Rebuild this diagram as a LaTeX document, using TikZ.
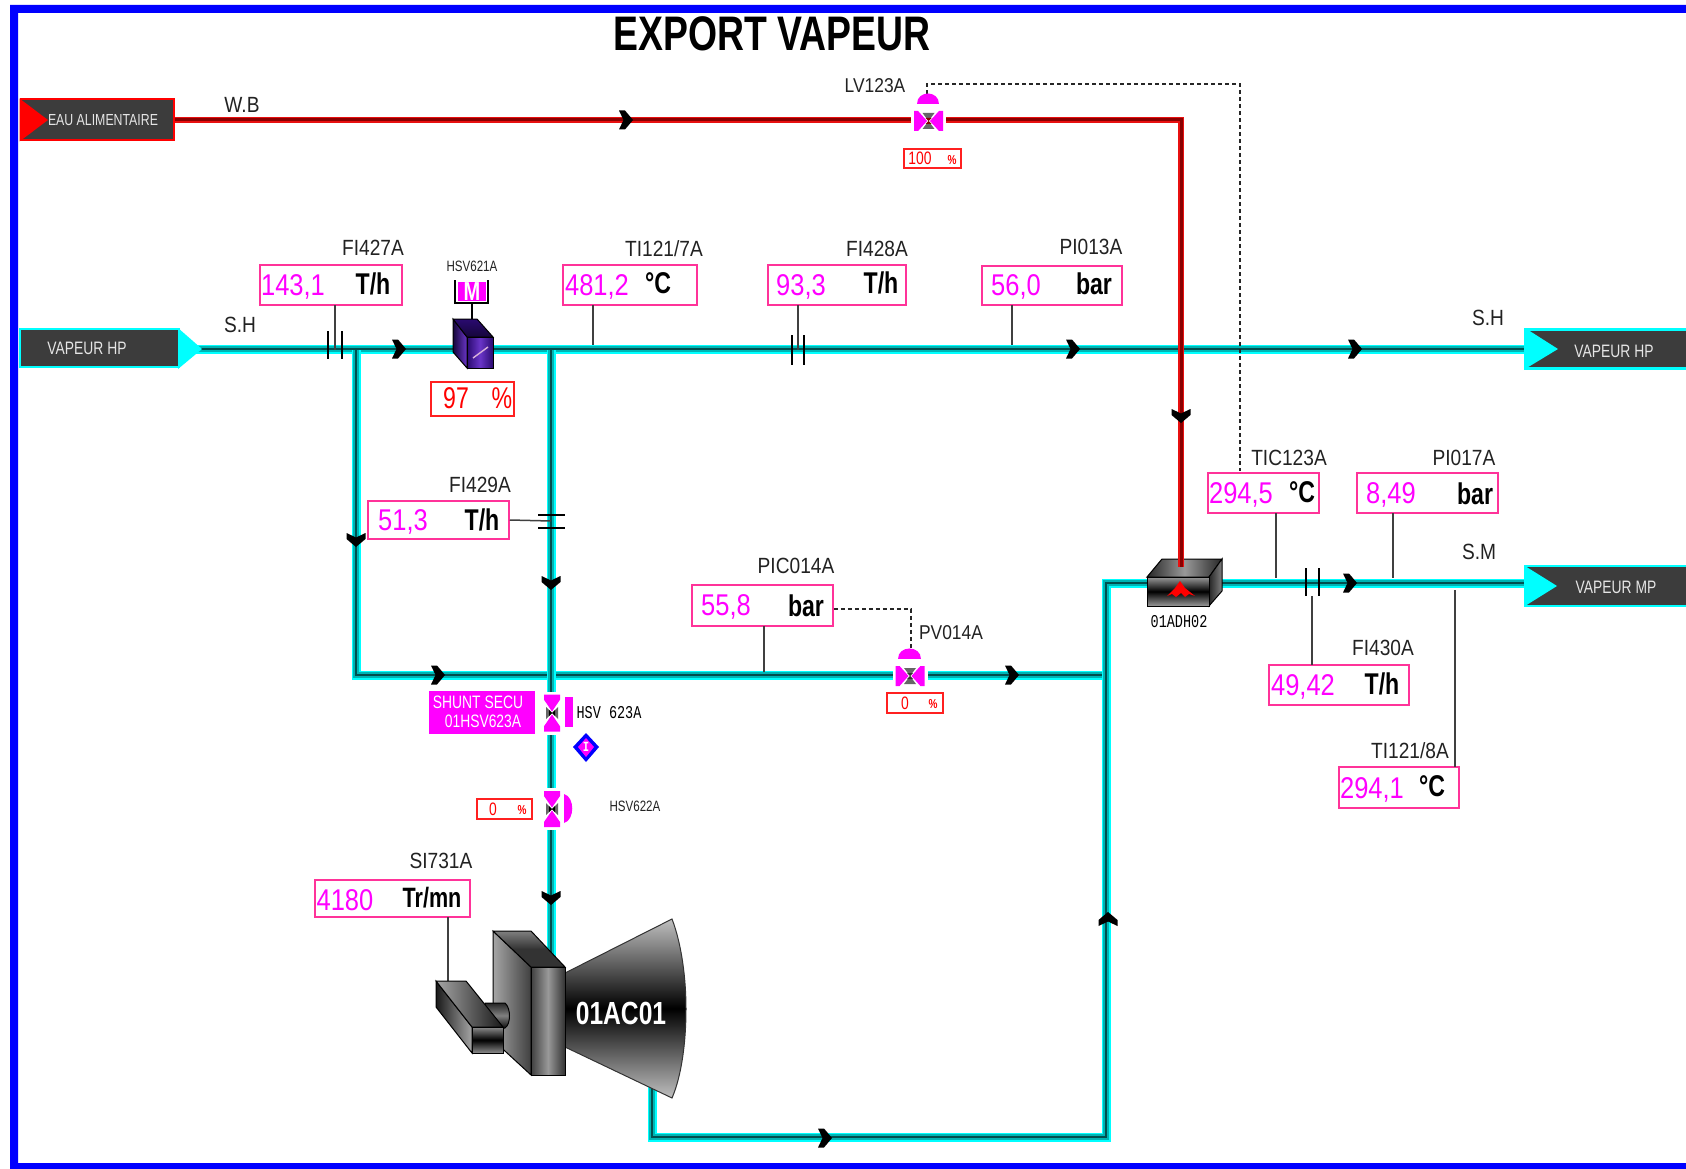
\documentclass[tikz,border=0pt]{standalone}
\usepackage{fontspec}
\setmainfont{Liberation Sans}
\newfontfamily\nar[FakeStretch=0.77]{Liberation Sans}
\newfontfamily\narv[FakeStretch=0.85]{Liberation Sans}
\newfontfamily\narl[FakeStretch=0.87]{Liberation Sans}
\newfontfamily\monofn[FakeStretch=0.75]{Liberation Mono}
\newcommand\fsz[1]{\fontsize{#1}{#1}\selectfont}
\definecolor{mag}{HTML}{FF00FF}
\definecolor{pinkb}{HTML}{FF3399}
\definecolor{redb}{HTML}{FF2020}
\definecolor{darkbox}{HTML}{3C3C3C}
\definecolor{cyanp}{HTML}{00FFFF}
\definecolor{tealp}{HTML}{00B4B4}
\definecolor{coreP}{HTML}{005050}
\definecolor{redP}{HTML}{E81010}
\definecolor{coreR}{HTML}{8A0000}
\definecolor{txtg}{HTML}{222222}
\definecolor{vioA}{HTML}{6A35C8}
\definecolor{vioB}{HTML}{2A0A70}
\definecolor{vioC}{HTML}{15063A}
\tikzset{
 x=1pt,y=-1pt,
 steam/.style={draw=coreP,line width=2.4,miter limit=10,preaction={draw=tealp,line width=5.5,preaction={draw=cyanp,line width=9}}},
 water/.style={draw=coreR,line width=3,preaction={draw=redP,line width=5.2}},
 sense/.style={draw=black!75,line width=1.5},
 ctrl/.style={draw=black!85,line width=1.2,dash pattern=on 4pt off 3pt},
 plate/.style={draw=black,line width=2.2},
 gauge/.style={draw=pinkb,line width=1.5,fill=white,inner sep=0,rectangle},
 pct/.style={draw=redb,line width=1.5,fill=white,inner sep=0,rectangle},
 lab/.style={text=txtg,font=\narl\fsz{22},inner sep=0},
 small/.style={text=txtg,font=\nar\fsz{15},inner sep=0},
 mono/.style={text=black,font=\monofn\fsz{18},inner sep=0},
 val/.style={text=mag,font=\narv\fsz{30},inner sep=0},
 unit/.style={text=black,font=\nar\bfseries\fsz{30},inner sep=0},
 redval/.style={text=red,font=\nar\fsz{30},inner sep=0},
 redsm/.style={text=red,font=\nar\fsz{18},inner sep=0},
 redpc/.style={text=red,font=\nar\bfseries\fsz{13},inner sep=0},
 whitetxt/.style={text=white,font=\nar\fsz{18},inner sep=0},
 pics/chev/.style={code={\fill[black] (-7,-9.5)--(-1,-9.5)--(7,0)--(-1,9.5)--(-7,9.5)--(-2.5,0)--cycle;}},
 pics/valve/.style n args={3}{code={
   \fill[white] (-#1-3,-#2-2) rectangle (#1+3,#2+2);
   \fill[black!60] (-6,-#2+2)--(6,-#2+2)--(0,0)--(6,#2-2)--(-6,#2-2)--(0,0)--cycle;
   \fill[#3] (-3,-3) -- (3,-3) -- (0,0) -- (3,3) -- (-3,3) -- (0,0) -- cycle;
   \fill[mag] (-#1,-#2)--({-#1*0.72},-#2)--(-1.5,0)--({-#1*0.72},#2)--(-#1,#2)--cycle;
   \fill[mag] (#1,-#2)--({#1*0.72},-#2)--(1.5,0)--({#1*0.72},#2)--(#1,#2)--cycle;
 }},
}
\begin{document}
\begin{tikzpicture}
\useasboundingbox (0,0) rectangle (1686,1169);
\fill[white] (0,0) rectangle (1686,1169);
% frame
\fill[blue] (1686,5) -- (10,5) -- (10,1169) -- (1686,1169) -- (1686,1163) -- (18,1163) -- (18,13) -- (1686,13) -- cycle;
\node[font=\nar\bfseries\fsz{48.5},text=black,inner sep=0] (title) at (772,34) {EXPORT VAPEUR};

% coordinates of the pipework
\coordinate (wS) at (173,120); \coordinate (wC) at (1181,120); \coordinate (wE) at (1181,567); \coordinate (wT) at (1181,545);
\coordinate (hS) at (195,349); \coordinate (hE) at (1530,349);
\coordinate (b1) at (356,350); \coordinate (b1c) at (356,675); \coordinate (hJ) at (1106,675);
\coordinate (b2) at (551,350); \coordinate (b2e) at (551,960);
\coordinate (tS) at (652,1085); \coordinate (tA) at (652,1137); \coordinate (tB) at (1106,1137);
\coordinate (tC) at (1106,583); \coordinate (xL) at (1150,583);
\coordinate (mS) at (1205,583); \coordinate (mE) at (1530,583);

% pipes
\draw[steam] (hS) -- (hE);
\draw[steam] (mS) -- (mE);
\draw[steam] (b1) -- (b1c) -- (hJ);
\draw[steam] (b2) -- (b2e);
\draw[steam] (tS) -- (tA) -- (tB) -- (tC) -- (xL);
\draw[water] (wS) -- (wC) -- (wE);

% terminals
\node[draw=red,line width=2,fill=darkbox,minimum width=153,minimum height=41,inner sep=0] (eau) at (97,120) {};
\fill[red] (eau.north west) -- (48,120) -- (eau.south west) -- cycle;
\node[whitetxt,font=\nar\fsz{16},text=white!90!black] (eauT) at (103,120) {EAU ALIMENTAIRE};

\node[draw=cyanp,line width=2,fill=darkbox,minimum width=159,minimum height=38,inner sep=0] (hpL) at (99,348) {};
\fill[cyanp] (178,328) -- (202,349) -- (178,369) -- cycle;
\node[whitetxt,text=white!90!black] (hpLT) at (87,348) {VAPEUR HP};

\node[draw=cyanp,line width=2.5,fill=darkbox,minimum width=166,minimum height=39,inner sep=0] (hpR) at (1608,349) {};
\fill[cyanp] (1525,328) -- (1558,349) -- (1525,369) -- cycle;
\node[whitetxt,text=white!90!black] (hpRT) at (1614,351) {VAPEUR HP};

\node[draw=cyanp,line width=2.5,fill=darkbox,minimum width=166,minimum height=40,inner sep=0] (mpR) at (1608,586) {};
\fill[cyanp] (1525,566) -- (1557,586) -- (1525,606) -- cycle;
\node[whitetxt,text=white!90!black] (mpRT) at (1616,587) {VAPEUR MP};

% line labels
\node[lab] (wb) at (242,105) {W.B};
\node[lab] (sh1) at (240,325) {S.H};
\node[lab] (sh2) at (1488,318) {S.H};
\node[lab] (sm) at (1479,552) {S.M};

% arrows
\pic at (626,120) {chev};
\pic at (399,349) {chev};
\pic at (1073,349) {chev};
\pic at (1355,349) {chev};
\pic[rotate=-90] at (1181,416) {chev};
\pic[rotate=-90] at (356,540) {chev};
\pic[rotate=-90] at (551,583) {chev};
\pic at (438,675) {chev};
\pic at (1012,675) {chev};
\pic[rotate=-90] at (551,898) {chev};
\pic at (825,1138) {chev};
\pic[rotate=90] at (1108,919) {chev};
\pic at (1350,583) {chev};

% orifices
\coordinate (o1a) at (328,331); \coordinate (o1b) at (328,359); \coordinate (o1c) at (342,331); \coordinate (o1d) at (342,359);
\draw[plate] (o1a)--(o1b); \draw[plate] (o1c)--(o1d);
\coordinate (o2a) at (792,335); \coordinate (o2b) at (792,365); \coordinate (o2c) at (804,335); \coordinate (o2d) at (804,365);
\draw[plate] (o2a)--(o2b); \draw[plate] (o2c)--(o2d);
\coordinate (o3a) at (538,515); \coordinate (o3b) at (565,515); \coordinate (o3c) at (538,528); \coordinate (o3d) at (565,528);
\draw[plate] (o3a)--(o3b); \draw[plate] (o3c)--(o3d);
\coordinate (o4a) at (1306,568); \coordinate (o4b) at (1306,596); \coordinate (o4c) at (1319,568); \coordinate (o4d) at (1319,596);
\draw[plate] (o4a)--(o4b); \draw[plate] (o4c)--(o4d);

% gauges
\node[gauge,minimum width=142,minimum height=40] (g1) at (331,285) {};
\node[val] (g1v) at (293,287) {143,1}; \node[unit] (g1u) at (373,284) {T/h}; \node[lab] (g1l) at (373,248) {FI427A};
\coordinate (s1) at (335,350); \draw[sense] (335,305) -- (s1);

\node[gauge,minimum width=134,minimum height=40] (g2) at (630,285) {};
\node[val] (g2v) at (597,287) {481,2}; \node[unit] (g2u) at (658,283) {°C}; \node[lab] (g2l) at (664,249) {TI121/7A};
\coordinate (s2) at (593,345); \draw[sense] (593,305) -- (s2);

\node[gauge,minimum width=138,minimum height=40] (g3) at (837,285) {};
\node[val] (g3v) at (801,287) {93,3}; \node[unit] (g3u) at (881,283) {T/h}; \node[lab] (g3l) at (877,249) {FI428A};
\coordinate (s3) at (798,350); \draw[sense] (798,305) -- (s3);

\node[gauge,minimum width=140,minimum height=39] (g4) at (1052,285.5) {};
\node[val] (g4v) at (1016,287) {56,0}; \node[unit] (g4u) at (1094,284) {bar}; \node[lab] (g4l) at (1091,247) {PI013A};
\coordinate (s4) at (1012,345); \draw[sense] (1012,305) -- (s4);

\node[gauge,minimum width=141,minimum height=38] (g5) at (438.5,520) {};
\node[val] (g5v) at (403,522) {51,3}; \node[unit] (g5u) at (482,520) {T/h}; \node[lab] (g5l) at (480,485) {FI429A};
\coordinate (s5) at (551,521); \draw[sense] (g5.east) -- (s5);

\node[gauge,minimum width=141,minimum height=41] (g6) at (762.5,605.5) {};
\node[val] (g6v) at (726,607) {55,8}; \node[unit] (g6u) at (806,606) {bar}; \node[lab] (g6l) at (796,566) {PIC014A};
\coordinate (s6) at (764,672); \draw[sense] (764,626) -- (s6);

\node[gauge,minimum width=111,minimum height=40] (g7) at (1263.5,493) {};
\node[val] (g7v) at (1241,495) {294,5}; \node[unit] (g7u) at (1302,492) {°C}; \node[lab] (g7l) at (1289,458) {TIC123A};
\coordinate (s7) at (1276,578); \draw[sense] (1276,513) -- (s7);

\node[gauge,minimum width=141,minimum height=40] (g8) at (1427.5,493) {};
\node[val] (g8v) at (1391,495) {8,49}; \node[unit] (g8u) at (1475,494) {bar}; \node[lab] (g8l) at (1464,458) {PI017A};
\coordinate (s8) at (1393,578); \draw[sense] (1393,513) -- (s8);

\node[gauge,minimum width=140,minimum height=40] (g9) at (1339,685) {};
\node[val] (g9v) at (1303,687) {49,42}; \node[unit] (g9u) at (1382,684) {T/h}; \node[lab] (g9l) at (1383,648) {FI430A};
\coordinate (s9) at (1312,596); \draw[sense] (s9) -- (1312,665);

\node[gauge,minimum width=120,minimum height=41] (g10) at (1399,787.5) {};
\node[val] (g10v) at (1372,790) {294,1}; \node[unit] (g10u) at (1432,786) {°C}; \node[lab] (g10l) at (1410,751) {TI121/8A};
\coordinate (s10) at (1455,590); \draw[sense] (s10) -- (1455,767);

\node[gauge,minimum width=155,minimum height=37] (g11) at (392.5,898.5) {};
\node[val] (g11v) at (345,900) {4180}; \node[unit,font=\nar\bfseries\fsz{28}] (g11u) at (432,898) {Tr/mn}; \node[lab] (g11l) at (441,861) {SI731A};
\coordinate (s11) at (448,981); \draw[sense] (448,917) -- (s11);

% control lines
\coordinate (c1) at (927,94); \coordinate (c2) at (927,84); \coordinate (c3) at (1240,84); \coordinate (c4) at (1240,471);
\draw[ctrl] (c1)--(c2)--(c3)--(c4);
\coordinate (c5) at (911,609); \coordinate (c6) at (911,649);
\draw[ctrl] (g6.east |- c5) -- (c5) -- (c6);

% LV123A
\pic at (928.5,121) {valve={14.5}{10}{coreR}};
\fill[mag] (917,104) .. controls (917,90) and (939,90) .. (939,104) -- cycle;
\node[lab,font=\narl\fsz{20}] (lvl) at (875,86) {LV123A};
\node[pct,minimum width=57,minimum height=19] (lvb) at (932.5,158.5) {};
\node[redsm] (lvv) at (920,158) {100}; \node[redpc] (lvp) at (952,160) {\%};

% PV014A
\pic at (910,676) {valve={14.5}{10}{black!80}};
\fill[mag] (898,659) .. controls (898,645) and (921,645) .. (921,659) -- cycle;
\node[lab,font=\narl\fsz{20}] (pvl) at (951,633) {PV014A};
\node[pct,minimum width=56,minimum height=20] (pvb) at (915,703) {};
\node[redsm] (pvv) at (905,703) {0}; \node[redpc] (pvp) at (933,704) {\%};

% HSV623A
\pic[rotate=90] at (552,713) {valve={18.5}{8}{black}};
\node[fill=mag,minimum width=106,minimum height=43,inner sep=0] (shunt) at (482,712.5) {};
\node[whitetxt] (sh1t) at (478,702) {SHUNT SECU};
\node[whitetxt] (sh2t) at (483,721) {01HSV623A};
\fill[mag] (565,697) rectangle (573,727);
\node[mono] (hsv3) at (609,713) {HSV 623A};
\fill[blue] (586,733) -- (599,747) -- (586,762) -- (573,747) -- cycle;
\fill[mag] (586,738) -- (594,747) -- (586,757) -- (578,747) -- cycle;
\node[text=white,font=\monofn\bfseries\fsz{14},inner sep=0] (diaI) at (586,747) {I};

% HSV622A
\pic[rotate=90] at (552,809) {valve={18}{8}{black}};
\fill[mag] (564,794) .. controls (575,797) and (575,820) .. (564,823) -- cycle;
\node[small] (hsv2) at (635,806) {HSV622A};
\node[pct,minimum width=55,minimum height=20] (hsb) at (504.5,809) {};
\node[redsm] (hsv) at (493,809) {0}; \node[redpc] (hsp) at (522,810) {\%};

% HSV621A motor valve
\node[small] (hsv1) at (472,266) {HSV621A};
\coordinate (mLn) at (472,303); \coordinate (mLs) at (472,319);
\draw[black,line width=1.2] (mLn)--(mLs);
\node[fill=mag,minimum width=28,minimum height=19,inner sep=0] (mbox) at (472,291.5) {};
\node[text=white,font=\nar\bfseries\fsz{26},inner sep=0] (mT) at (472,292) {M};
\draw[black,line width=1.6] (455,280) -- (455,303) -- (488,303) -- (488,280);
\shade[left color=vioC,right color=vioA,draw=black,line width=1] (453,319) -- (467,337) -- (467,368) -- (453,352) -- cycle;
\shade[top color=vioB,bottom color=vioC,draw=black,line width=1] (453,319) -- (477,319) -- (493,337) -- (467,337) -- cycle;
\shade[left color=vioB,right color=vioB,middle color=vioA,draw=black,line width=1] (467,337) rectangle (493,368);
\draw[white!70!violet,line width=1.4] (473,358) -- (488,347);
\node[pct,minimum width=83,minimum height=34] (pc97) at (472.5,399) {};
\node[redval] (pc97v) at (456,398) {97}; \node[redval,font=\nar\fsz{30}] (pc97p) at (502,398) {\%};

% exchanger
\shade[left color=black!85,right color=black!85,middle color=black!40,draw=black,line width=1] (1147,577) -- (1162,559) -- (1222,559) -- (1209,577) -- cycle;
\shade[left color=black!85,right color=black!50,draw=black,line width=1] (1209,577) -- (1222,559) -- (1222,591) -- (1209,606) -- cycle;
\shade[top color=black!40,bottom color=black!40,middle color=black,draw=black,line width=1] (1147,577) rectangle (1209,606);
\fill[red] (1180,581) -- (1185,588) -- (1195,596) -- (1189,594) -- (1185,597) -- (1181,593) -- (1176,597) -- (1172,594) -- (1167,596) -- (1175,588) -- cycle;
\draw[water] (wT) -- (wE);
\node[mono] (adh) at (1179,622) {01ADH02};

% turbine
\shade[top color=black!25,bottom color=black!25,middle color=black,draw=black!80,line width=1] (565,973) -- (672,919) .. controls (682,945) and (686,980) .. (686,1009) .. controls (686,1040) and (682,1075) .. (672,1098) -- (565,1047) -- cycle;
\shade[left color=black!35,right color=black!75,draw=black,line width=1] (493,931) -- (531,967) -- (531,1075) -- (493,1040) -- cycle;
\shade[top color=black!50,bottom color=black!80,middle color=black!80,draw=black,line width=1] (493,931) -- (531,931) -- (565,967) -- (531,967) -- cycle;
\shade[left color=black!75,right color=black!80,middle color=black!40,draw=black,line width=1] (531,967) rectangle (565,1075);
\shade[top color=black!85,bottom color=black!95,middle color=black!50,draw=black,line width=1] (485,1003) -- (505,1003) .. controls (511,1008) and (511,1024) .. (505,1028) -- (485,1028) -- cycle;
\shade[left color=black!90,right color=black!35,draw=black,line width=1] (436,981) -- (472,1027) -- (472,1053) -- (436,1007) -- cycle;
\shade[left color=black!35,right color=black!90,draw=black,line width=1] (436,981) -- (466,981) -- (503,1027) -- (472,1027) -- cycle;
\shade[top color=black!45,bottom color=black!45,middle color=black,draw=black,line width=1] (472,1027) rectangle (503,1053);
\node[text=white,font=\nar\bfseries\fsz{32},inner sep=0] (ac) at (621,1013) {01AC01};
\end{tikzpicture}
\end{document}
